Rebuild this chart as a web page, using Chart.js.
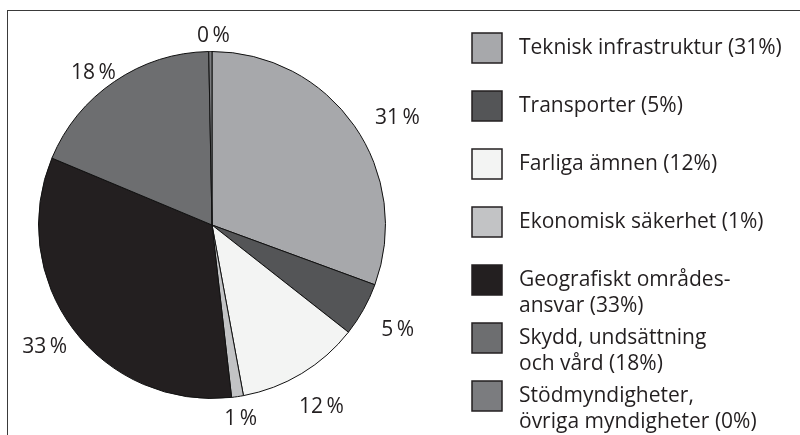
<!DOCTYPE html>
<html>
<head>
<meta charset="utf-8">
<script src="https://cdn.jsdelivr.net/npm/chart.js@4/dist/chart.umd.min.js"></script>
<style>
  html, body { margin: 0; padding: 0; background: #fff; }
  #wrap { position: relative; width: 800px; height: 435px; }
  #frame { position: absolute; left: 7px; top: 10px; right: 0; bottom: 0;
           border-left: 1.5px solid #3a3a3a; border-top: 1.5px solid #3a3a3a; }
  canvas { position: absolute; left: 0; top: 0; }
</style>
</head>
<body>
<div id="wrap">
  <div id="frame"></div>
  <canvas id="myChart" width="800" height="435"></canvas>
</div>
<script>
const categories = [
  'Teknisk infrastruktur',
  'Transporter',
  'Farliga ämnen',
  'Ekonomisk säkerhet',
  'Geografiskt områdes-\nansvar',
  'Skydd, undsättning\noch vård',
  'Stödmyndigheter,\növriga myndigheter'
];
// slice sizes as measured on the picture
const shares = [30.6, 5.0, 11.5, 1.1, 33.1, 18.4, 0.3];
// percentages as printed
const shownPct = [31, 5, 12, 1, 33, 18, 0];
const colors = ['#a7a8ab', '#545557', '#f3f4f3', '#c2c3c5', '#231f20', '#6d6e70', '#7b7c7f'];

// the outside labels were hand placed in the original: distance past the rim and small angle nudge (deg)
const labelGap = [41, 39, 38, 22, 33, 20, 16];
const labelTurn = [4.7, 0, 0, 0, 1, -3.6, 1];

const FONT = '21px "Open Sans", "Noto Sans", sans-serif';

const labelsAndLegend = {
  id: 'labelsAndLegend',
  afterDatasetsDraw(chart) {
    const ctx = chart.ctx;
    const meta = chart.getDatasetMeta(0);
    ctx.save();
    ctx.font = FONT;
    ctx.fillStyle = '#231f20';
    ctx.textAlign = 'center';
    ctx.textBaseline = 'middle';

    // percent labels round the pie
    meta.data.forEach((arc, i) => {
      const p = arc.getProps(['x', 'y', 'startAngle', 'endAngle', 'outerRadius'], true);
      const mid = (p.startAngle + p.endAngle) / 2 + labelTurn[i] * Math.PI / 180;
      const r = p.outerRadius + labelGap[i];
      ctx.fillText(shownPct[i] + '\u2009%', p.x + Math.cos(mid) * r, p.y + Math.sin(mid) * r + 1);
    });

    // legend on the right
    const boxX = 472, top0 = 33, step = 58, size = 30, textX = 519, lineH = 26;
    ctx.textAlign = 'left';
    categories.forEach((cat, i) => {
      const y = top0 + i * step;
      ctx.fillStyle = colors[i];
      ctx.fillRect(boxX, y, size, size);
      ctx.lineWidth = 1.5;
      ctx.strokeStyle = '#231f20';
      ctx.strokeRect(boxX, y, size, size);
      const lines = (cat + ' (' + shownPct[i] + '%)').split('\n');
      ctx.fillStyle = '#231f20';
      lines.forEach((ln, j) => {
        ctx.fillText(ln, textX, y + size / 2 + j * lineH);
      });
    });
    ctx.restore();
  }
};

new Chart(document.getElementById('myChart'), {
  type: 'pie',
  data: {
    labels: categories,
    datasets: [{
      data: shares,
      backgroundColor: colors,
      borderColor: '#111',
      borderWidth: 1
    }]
  },
  options: {
    responsive: false,
    animation: false,
    devicePixelRatio: 1,
    layout: { padding: { left: 38, right: 414, top: 51, bottom: 36 } },
    plugins: {
      legend: { display: false },
      tooltip: { enabled: false }
    }
  },
  plugins: [labelsAndLegend]
});
</script>
</body>
</html>
